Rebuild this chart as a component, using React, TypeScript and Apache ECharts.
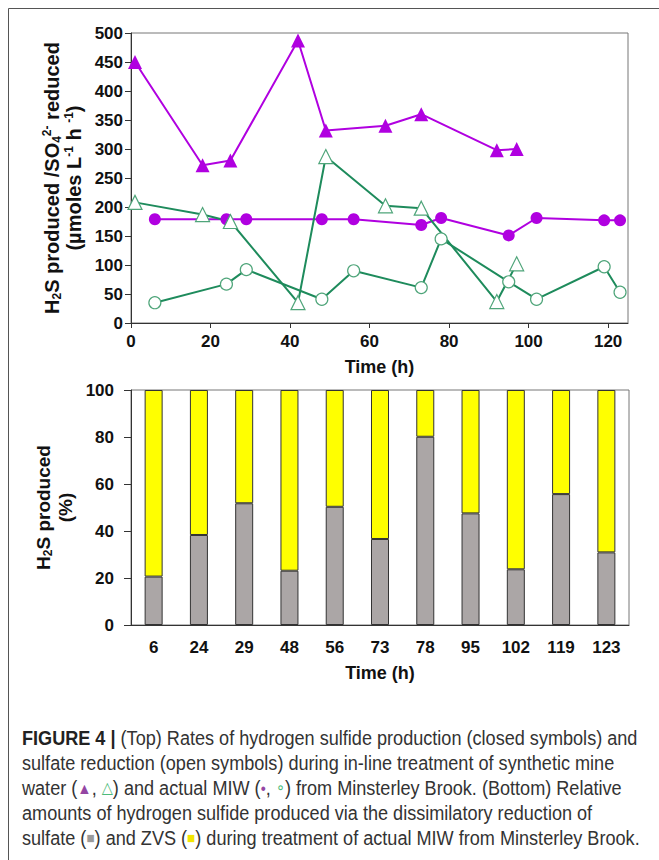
import React, { useEffect, useRef } from "react";
import * as echarts from "echarts";

// ---- Top panel data (rates, µmoles L-1 h-1) ----
const synTime = [1, 18, 25, 42, 49, 64, 73, 92, 97];
const synH2S = [450, 272, 280, 487, 332, 340, 360, 298, 300];
const synSO4 = [208, 187, 175, 35, 287, 202, 198, 37, 102];
const miwTime = [6, 24, 29, 48, 56, 73, 78, 95, 102, 119, 123];
const miwH2S = [179, 179, 179, 179, 179, 169, 181, 151, 181, 177, 177];
const miwSO4 = [35, 67, 92, 41, 90, 61, 145, 71, 41, 97, 53];
const topXTicks = [0, 20, 40, 60, 80, 100, 120];

// ---- Bottom panel data (% of H2S produced) ----
const barCategories = ["6", "24", "29", "48", "56", "73", "78", "95", "102", "119", "123"];
const sulfatePct = [20.6, 38.3, 51.8, 23.1, 50.3, 36.6, 80.1, 47.5, 23.7, 55.7, 30.9];
const zvsPct = [79.4, 61.7, 48.2, 76.9, 49.7, 63.4, 19.9, 52.5, 76.3, 44.3, 69.1];

const captionLines = [
  "{fb|FIGURE 4 |}{n| (Top) Rates of hydrogen sulfide production (closed symbols) and}",
  "{n|sulfate reduction (open symbols) during in-line treatment of synthetic mine}",
  "{n|water (}{pt|▲}{n|, }{gt|△}{n|) and actual MIW (}{pc|•}{n|, }{gc|∘}{n|) from Minsterley Brook. (Bottom) Relative}",
  "{n|amounts of hydrogen sulfide produced via the dissimilatory reduction of}",
  "{n|sulfate (}{gs|■}{n|) and ZVS (}{ys|■}{n|) during treatment of actual MIW from Minsterley Brook.}",
];

const FONT = "'Liberation Sans', Arial, sans-serif";
const PURPLE = "#B000E0";
const GREEN = "#1E8B5C";
const GREEN_LIGHT = "#4FA57A";
const TXT = "#111";

const pairs = (xs: number[], ys: number[]) => xs.map((x, i) => [x, ys[i]]);

const makeRich = (size: number, lh: number) => ({
  b: { fontSize: size, fontWeight: "bold", fontFamily: FONT, color: TXT, lineHeight: lh },
  sub: { fontSize: 12, fontWeight: "bold", fontFamily: FONT, color: TXT, lineHeight: 12, verticalAlign: "bottom" },
  sup: { fontSize: 12, fontWeight: "bold", fontFamily: FONT, color: TXT, lineHeight: 12, verticalAlign: "top" },
});

const axisLabelStyle = { fontSize: 17, fontWeight: "bold", fontFamily: FONT, color: TXT };

export default function App() {
  const ref = useRef<HTMLDivElement>(null);
  useEffect(() => {
    document.body.style.margin = "0";
    document.body.style.overflow = "hidden";
    if (!ref.current) return;
    const chart = echarts.init(ref.current, undefined, { renderer: "svg" });
    const capRich = {
      n: { fontSize: 20, fontFamily: FONT, fill: "#333" },
      fb: { fontSize: 20, fontFamily: FONT, fontWeight: "bold", fill: "#222" },
      pt: { fontSize: 16, fontFamily: FONT, fill: "#9446A3" },
      gt: { fontSize: 16, fontFamily: "'DejaVu Sans', sans-serif", fill: "#4DBB7A" },
      pc: { fontSize: 16, fontFamily: FONT, fill: "#9446A3" },
      gc: { fontSize: 16, fontFamily: "'DejaVu Sans', sans-serif", fill: "#4DBB7A" },
      gs: { fontSize: 15, fontFamily: FONT, fill: "#9a9a9a" },
      ys: { fontSize: 15, fontFamily: FONT, fill: "#F2E600" },
    };
    const option: any = {
      animation: false,
      backgroundColor: "#fff",
      grid: [
        { left: 131, top: 33, width: 497, height: 290, show: true, borderColor: "#777", borderWidth: 1 },
        { left: 131, top: 390, width: 498, height: 235, show: true, borderColor: "#777", borderWidth: 1 },
      ],
      xAxis: [
        {
          type: "value",
          gridIndex: 0,
          min: 0,
          max: 125,
          splitLine: { show: false },
          axisLine: { show: true, onZero: false, lineStyle: { color: "#333", width: 1 } },
          axisTick: { show: true, length: 5, customValues: topXTicks, lineStyle: { color: "#333" } },
          axisLabel: { ...axisLabelStyle, margin: 10, customValues: topXTicks },
          name: "Time (h)",
          nameLocation: "middle",
          nameGap: 35,
          nameTextStyle: { fontSize: 18, fontWeight: "bold", fontFamily: FONT, color: TXT },
        },
        {
          type: "category",
          gridIndex: 1,
          data: barCategories,
          axisLine: { show: true, lineStyle: { color: "#333", width: 1 } },
          axisTick: { show: false },
          axisLabel: { ...axisLabelStyle, margin: 14 },
          name: "Time (h)",
          nameLocation: "middle",
          nameGap: 39,
          nameTextStyle: { fontSize: 18, fontWeight: "bold", fontFamily: FONT, color: TXT },
        },
      ],
      yAxis: [
        {
          type: "value",
          gridIndex: 0,
          min: 0,
          max: 500,
          interval: 50,
          splitLine: { show: false },
          axisLine: { show: true, lineStyle: { color: "#333", width: 1 } },
          axisTick: { show: true, length: 6, lineStyle: { color: "#333" } },
          axisLabel: { ...axisLabelStyle, margin: 8 },
          name: "{b|H}{sub|2}{b|S produced /SO}{sub|4}{sup|2-}{b| reduced}\n{b|(µmoles L}{sup|-1}{b| h }{sup|-1}{b|)}",
          nameLocation: "middle",
          nameRotate: 90,
          nameGap: 41,
          nameTextStyle: { rich: makeRich(20, 22), align: "center" },
        },
        {
          type: "value",
          gridIndex: 1,
          min: 0,
          max: 100,
          interval: 20,
          splitLine: { show: false },
          axisLine: { show: true, lineStyle: { color: "#333", width: 1 } },
          axisTick: { show: true, length: 7, lineStyle: { color: "#333" } },
          axisLabel: { ...axisLabelStyle, margin: 17 },
          name: "{b|H}{sub|2}{b|S produced}\n{b|(%)}",
          nameLocation: "middle",
          nameRotate: 90,
          nameGap: 54,
          nameTextStyle: { rich: makeRich(19, 22), align: "center" },
        },
      ],
      series: [
        {
          name: "H2S synthetic",
          type: "line",
          xAxisIndex: 0,
          yAxisIndex: 0,
          data: pairs(synTime, synH2S),
          symbol: "triangle",
          symbolSize: 14,
          lineStyle: { color: PURPLE, width: 2 },
          itemStyle: { color: PURPLE },
        },
        {
          name: "H2S MIW",
          type: "line",
          xAxisIndex: 0,
          yAxisIndex: 0,
          data: pairs(miwTime, miwH2S),
          symbol: "circle",
          symbolSize: 12,
          lineStyle: { color: PURPLE, width: 2 },
          itemStyle: { color: PURPLE },
        },
        {
          name: "SO4 synthetic",
          type: "line",
          xAxisIndex: 0,
          yAxisIndex: 0,
          data: pairs(synTime, synSO4),
          symbol: "triangle",
          symbolSize: 14,
          lineStyle: { color: GREEN, width: 2 },
          itemStyle: { color: "#fff", borderColor: GREEN_LIGHT, borderWidth: 1.2 },
        },
        {
          name: "SO4 MIW",
          type: "line",
          xAxisIndex: 0,
          yAxisIndex: 0,
          data: pairs(miwTime, miwSO4),
          symbol: "circle",
          symbolSize: 12,
          lineStyle: { color: GREEN, width: 2 },
          itemStyle: { color: "#fff", borderColor: GREEN_LIGHT, borderWidth: 1.2 },
        },
        {
          name: "Sulfate",
          type: "bar",
          xAxisIndex: 1,
          yAxisIndex: 1,
          stack: "pct",
          barWidth: 18,
          data: sulfatePct,
          itemStyle: { color: "#ABA6A6", borderColor: "#333", borderWidth: 1 },
        },
        {
          name: "ZVS",
          type: "bar",
          xAxisIndex: 1,
          yAxisIndex: 1,
          stack: "pct",
          barWidth: 18,
          data: zvsPct,
          itemStyle: { color: "#FFFF00", borderColor: "#333", borderWidth: 1 },
        },
      ],
      graphic: [
        {
          type: "rect",
          shape: { x: 8.5, y: 8.5, width: 700, height: 900 },
          style: { fill: "none", stroke: "#555", lineWidth: 1 },
          silent: true,
        },
        ...captionLines.map((t, i) => ({
          type: "text",
          x: 22,
          y: 738 + i * 25,
          scaleX: 0.905,
          style: { text: t, rich: capRich, verticalAlign: "middle", align: "left" },
          silent: true,
        })),
      ],
    };
    chart.setOption(option);
    return () => chart.dispose();
  }, []);
  return <div ref={ref} style={{ width: 659, height: 860 }} />;
}
